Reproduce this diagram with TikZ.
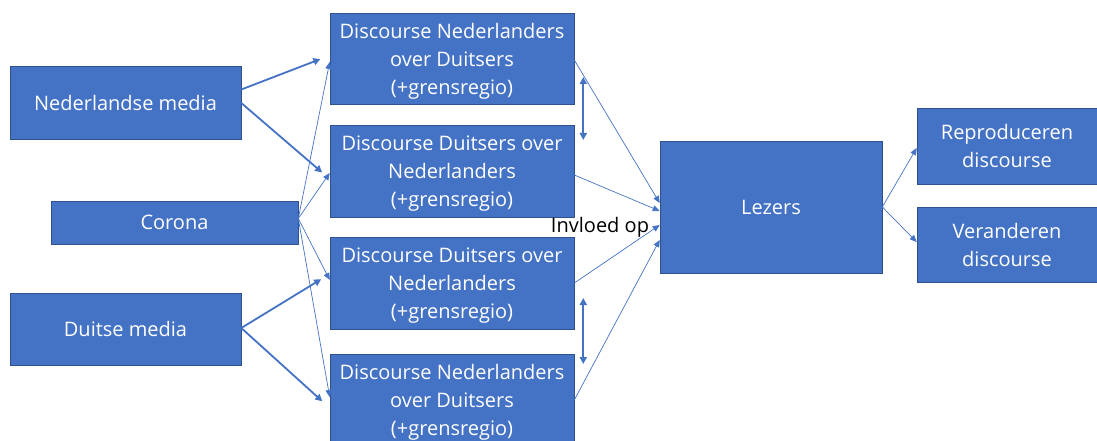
\documentclass[tikz,border=0pt]{standalone}
\usepackage{fontspec}
\setmainfont{Open Sans}
\usetikzlibrary{arrows.meta}
\definecolor{boxblue}{HTML}{4472C4}
\definecolor{boxedge}{HTML}{2F528F}
\begin{document}
\begin{tikzpicture}[x=1pt,y=-1pt,
  box/.style={draw=boxedge,line width=0.6pt,fill=boxblue,text=white,align=center,
    font=\fontsize{20}{28}\selectfont,text depth=0pt},
  thickarr/.style={draw=boxblue,line width=1.8pt,-{Triangle[length=7pt,width=7pt]},shorten >=10pt},
  thinarr/.style={draw=boxblue,line width=0.7pt,-{Triangle[length=7pt,width=6pt]}},
  duoarr/.style={draw=boxblue,line width=1.8pt,{Triangle[length=7pt,width=7pt]}-{Triangle[length=7pt,width=7pt]}}]
\tikzstyle{every node}+=[inner sep=0pt]
\useasboundingbox (0,0) rectangle (1097,441);
% bronnen
\node [box,minimum width=231pt,minimum height=73pt] (nl) at (125.5,102.5) {Nederlandse media};
\node [box,minimum width=247pt,minimum height=43pt] (co) at (174.5,222.5) {Corona};
\node [box,minimum width=231pt,minimum height=72pt] (dm) at (125.5,329) {Duitse media};
% discourses
\node [box,minimum width=244pt,minimum height=91pt] (d1) at (452,58.5) {Discourse Nederlanders\\over Duitsers\\(+grensregio)};
\node [box,minimum width=244pt,minimum height=92pt] (d2) at (452,171) {Discourse Duitsers over\\Nederlanders\\(+grensregio)};
\node [box,minimum width=244pt,minimum height=92pt] (d3) at (452,283) {Discourse Duitsers over\\Nederlanders\\(+grensregio)};
\node [box,minimum width=244pt,minimum height=92pt] (d4) at (452,400) {Discourse Nederlanders\\over Duitsers\\(+grensregio)};
% lezers en effect
\node [box,minimum width=222pt,minimum height=132pt] (lz) at (771,207) {Lezers};
\node [box,minimum width=180pt,minimum height=76pt] (rp) at (1007,146) {Reproduceren\\discourse};
\node [box,minimum width=180pt,minimum height=75pt] (ve) at (1007,244.5) {Veranderen\\discourse};
\node [font=\fontsize{20}{24}\selectfont] (invl) at (600,227) {Invloed op};
% media naar discourse
\draw [thickarr] ([yshift=13pt]nl.east) -- ([yshift=3pt]d1.west);
\draw [thickarr] ([yshift=-0.5pt]nl.east) -- ([yshift=-8pt]d2.west);
\draw [thickarr] ([yshift=1pt]dm.east) -- ([yshift=9pt]d3.west);
\draw [thickarr] ([yshift=1pt]dm.east) -- ([yshift=-8pt]d4.west);
% corona
\draw [thinarr] ([yshift=4pt]co.east) -- ([yshift=-3.5pt]d1.west);
\draw [thinarr] ([yshift=4pt]co.east) -- ([yshift=-2pt]d2.west);
\draw [thinarr] ([yshift=4pt]co.east) -- ([yshift=3pt]d3.west);
\draw [thinarr] ([yshift=4pt]co.east) -- ([yshift=3pt]d4.west);
% discourse naar lezers
\draw [thinarr] ([yshift=-1.5pt]d1.east) -- ([yshift=4pt]lz.west);
\draw [thinarr] ([yshift=-4pt]d2.east) -- ([yshift=-4pt]lz.west);
\draw [thinarr] (d3.east) -- ([yshift=-18pt]lz.west);
\draw [thinarr] (d4.east) -- ([yshift=-33pt]lz.west);
\draw [duoarr] ([xshift=9pt,yshift=-18.5pt]d1.east) -- ([xshift=9pt,yshift=31pt]d2.east);
\draw [duoarr] ([xshift=9pt,yshift=-15pt]d3.east) -- ([xshift=9pt,yshift=36pt]d4.east);
% lezers naar effect
\draw [thinarr] (lz.east) -- ([yshift=-2pt]rp.west);
\draw [thinarr] (lz.east) -- ([yshift=2.5pt]ve.west);
\end{tikzpicture}
\end{document}
